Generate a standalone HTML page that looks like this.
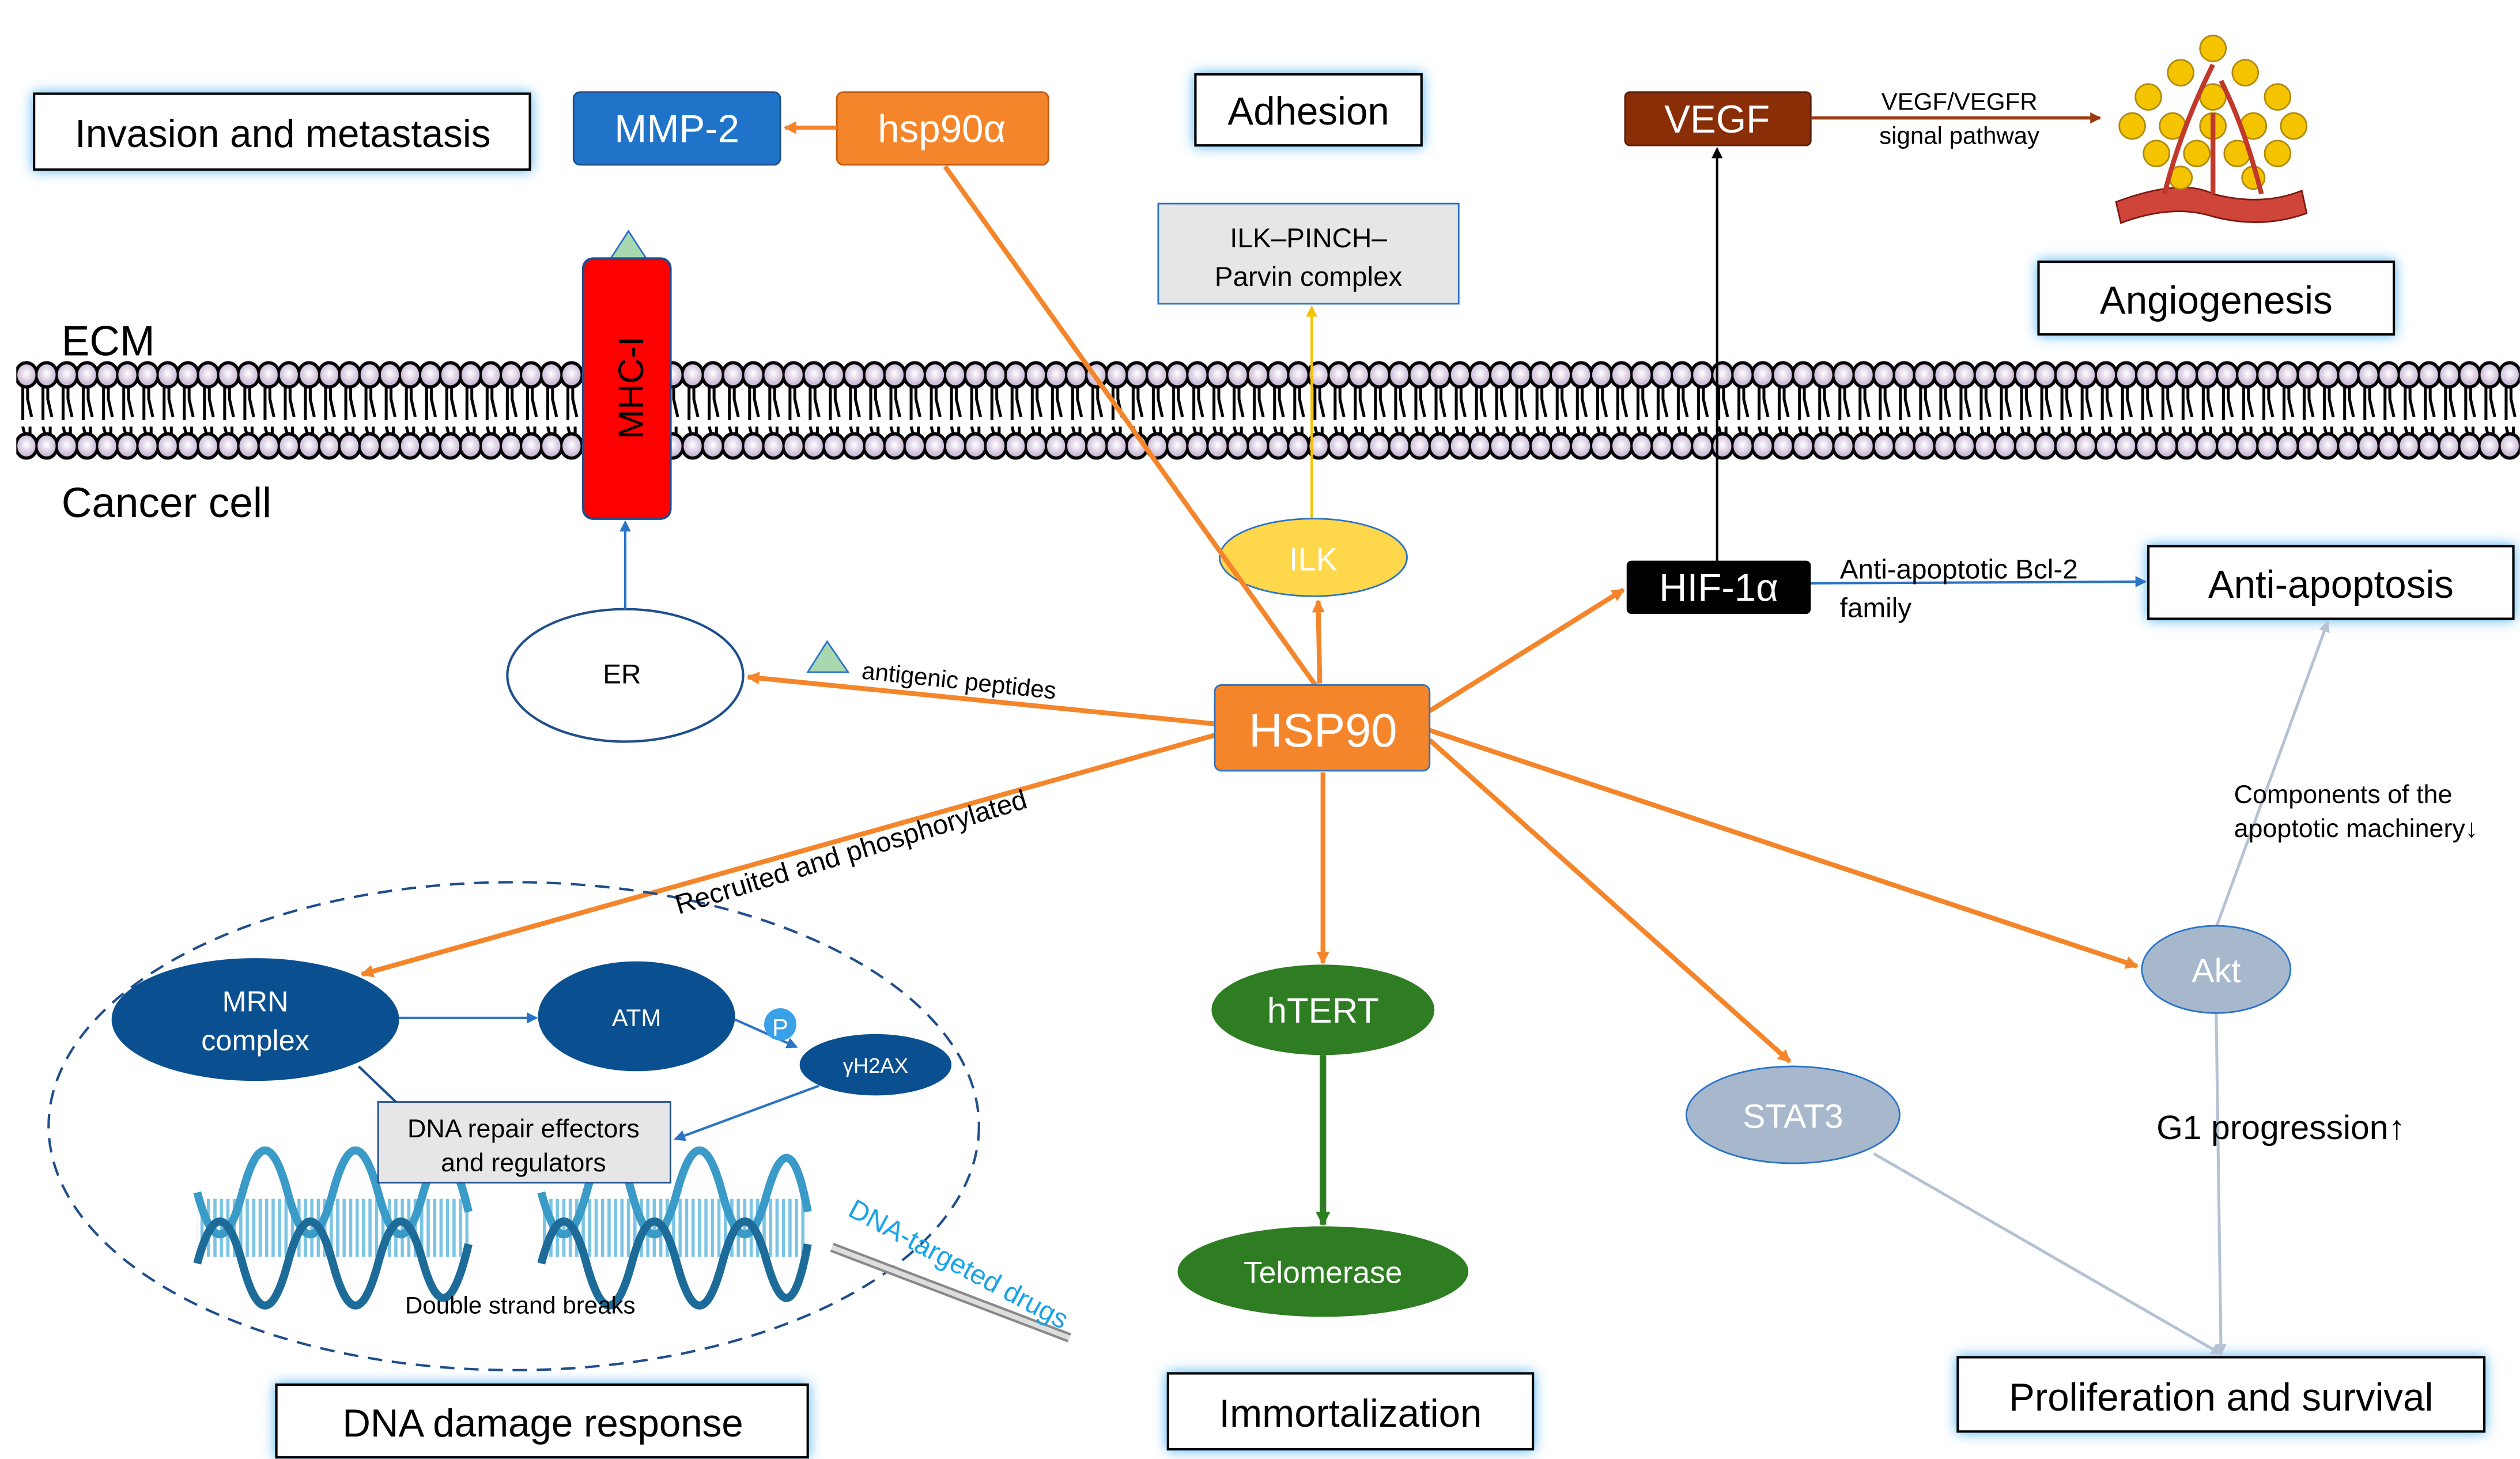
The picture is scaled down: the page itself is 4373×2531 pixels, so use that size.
<!DOCTYPE html>
<html><head><meta charset="utf-8"><style>
html,body{margin:0;padding:0;background:#fff}
svg{display:block}
text{font-family:"Liberation Sans",Arial,sans-serif}
</style></head><body>
<svg width="4373" height="2531" viewBox="0 0 1560 903" xmlns="http://www.w3.org/2000/svg">
<defs>
<radialGradient id="hg" cx="50%" cy="45%" r="60%"><stop offset="0" stop-color="#fff"/><stop offset="1" stop-color="#b8a0c8"/></radialGradient>
<pattern id="mem" x="10" y="220" width="12.5" height="70" patternUnits="userSpaceOnUse">
<path d="M4 19 V40 M7 19 L7 27 L9.5 38 M4 44 L6 52 L6 60 M8.5 44 V60" stroke="#000" stroke-width="1.8" fill="none"/>
<ellipse cx="6.25" cy="12" rx="6.6" ry="7.5" fill="url(#hg)" stroke="#000" stroke-width="2"/>
<ellipse cx="6.25" cy="56" rx="6.6" ry="7.5" fill="url(#hg)" stroke="#000" stroke-width="2"/>
</pattern>
<pattern id="rung" x="0" y="0" width="4" height="10" patternUnits="userSpaceOnUse"><rect width="2" height="10" fill="#7cc4e4"/></pattern>
<filter id="glow" x="-20%" y="-40%" width="140%" height="180%"><feGaussianBlur in="SourceAlpha" stdDeviation="4" result="b"/><feFlood flood-color="#4fb3f0"/><feComposite in2="b" operator="in"/><feMerge><feMergeNode/><feMergeNode in="SourceGraphic"/></feMerge></filter>
<marker id="ao" markerWidth="8" markerHeight="8" refX="7" refY="4" orient="auto" markerUnits="userSpaceOnUse"><path d="M0 0 L8 4 L0 8z" fill="#f5852a"/></marker>
<marker id="ab" markerWidth="7" markerHeight="7" refX="6" refY="3.5" orient="auto" markerUnits="userSpaceOnUse"><path d="M0 0 L7 3.5 L0 7z" fill="#2a73c7"/></marker>
<marker id="ak" markerWidth="7" markerHeight="7" refX="6" refY="3.5" orient="auto" markerUnits="userSpaceOnUse"><path d="M0 0 L7 3.5 L0 7z" fill="#000"/></marker>
<marker id="ay" markerWidth="7" markerHeight="7" refX="6" refY="3.5" orient="auto" markerUnits="userSpaceOnUse"><path d="M0 0 L7 3.5 L0 7z" fill="#f5c400"/></marker>
<marker id="ag" markerWidth="7" markerHeight="7" refX="6" refY="3.5" orient="auto" markerUnits="userSpaceOnUse"><path d="M0 0 L7 3.5 L0 7z" fill="#b4c2d4"/></marker>
<marker id="agr" markerWidth="9" markerHeight="9" refX="8" refY="4.5" orient="auto" markerUnits="userSpaceOnUse"><path d="M0 0 L9 4.5 L0 9z" fill="#2e7d22"/></marker>
<marker id="abr" markerWidth="7" markerHeight="7" refX="6" refY="3.5" orient="auto" markerUnits="userSpaceOnUse"><path d="M0 0 L7 3.5 L0 7z" fill="#9b3b10"/></marker>
</defs>
<rect width="1560" height="903" fill="#fff"/>
<!-- membrane -->
<rect x="10" y="220" width="1550" height="70" fill="url(#mem)"/>
<text x="38" y="220" font-size="26">ECM</text>
<text x="38" y="320" font-size="26">Cancer cell</text>
<!-- MHC-I -->
<polygon points="389,143 378,160 400,160" fill="#a8d8b0" stroke="#2a73c7" stroke-width="1"/>
<rect x="361" y="160" width="54" height="161" rx="6" fill="#f00" stroke="#1f4e8c" stroke-width="1.5"/>
<text transform="translate(398,240) rotate(-90)" text-anchor="middle" font-size="22">MHC-I</text>
<!-- label boxes -->
<g filter="url(#glow)" fill="#fff" stroke="#000" stroke-width="1.5">
<rect x="21" y="58" width="307" height="47"/>
<rect x="740" y="46" width="140" height="44"/>
<rect x="1262" y="162" width="220" height="45"/>
<rect x="1330" y="338" width="226" height="45"/>
<rect x="171" y="857" width="329" height="45"/>
<rect x="723" y="850" width="226" height="47"/>
<rect x="1212" y="840" width="326" height="46"/>
</g>
<g font-size="24" text-anchor="middle">
<text x="175" y="91">Invasion and metastasis</text>
<text x="810" y="77">Adhesion</text>
<text x="1372" y="194">Angiogenesis</text>
<text x="1443" y="370">Anti-apoptosis</text>
<text x="336" y="889">DNA damage response</text>
<text x="836" y="883">Immortalization</text>
<text x="1375" y="873">Proliferation and survival</text>
</g>
<!-- top boxes -->
<rect x="355" y="57" width="128" height="45" rx="4" fill="#1f74c9" stroke="#1f4e8c"/>
<text x="419" y="88" font-size="24" fill="#fff" text-anchor="middle">MMP-2</text>
<rect x="518" y="57" width="131" height="45" rx="4" fill="#f5852a" stroke="#c45a10"/>
<text x="583" y="88" font-size="24" fill="#fff" text-anchor="middle">hsp90α</text>
<line x1="518" y1="79" x2="486" y2="79" stroke="#f5852a" stroke-width="2.5" marker-end="url(#ao)"/>
<rect x="717" y="126" width="186" height="62" fill="#e6e6e6" stroke="#2a73c7"/>
<text x="810" y="153" font-size="17" text-anchor="middle">ILK–PINCH–</text>
<text x="810" y="177" font-size="17" text-anchor="middle">Parvin complex</text>
<rect x="1006" y="57" width="115" height="33" rx="3" fill="#8a2e08" stroke="#5a1c04"/>
<text x="1063" y="82" font-size="24" fill="#fff" text-anchor="middle">VEGF</text>
<line x1="1121" y1="73" x2="1300" y2="73" stroke="#9b3b10" stroke-width="2" marker-end="url(#abr)"/>
<text x="1213" y="68" font-size="15" text-anchor="middle">VEGF/VEGFR</text>
<text x="1213" y="89" font-size="15" text-anchor="middle">signal pathway</text>
<!-- tumor -->
<path d="M1310 125 Q1350 110 1370 120 Q1400 128 1425 118 L1428 132 Q1400 142 1370 134 Q1345 126 1313 138z" fill="#d0453a" stroke="#7a1a12"/>
<g stroke="#b08a10" stroke-width="1">
<circle cx="1370" cy="30" r="8" fill="#f5c400"/><circle cx="1350" cy="45" r="8" fill="#f5c400"/><circle cx="1390" cy="45" r="8" fill="#f5c400"/>
<circle cx="1330" cy="60" r="8" fill="#f5c400"/><circle cx="1410" cy="60" r="8" fill="#f5c400"/><circle cx="1370" cy="60" r="8" fill="#f5c400"/>
<circle cx="1320" cy="78" r="8" fill="#f5c400"/><circle cx="1345" cy="78" r="8" fill="#f5c400"/><circle cx="1395" cy="78" r="8" fill="#f5c400"/><circle cx="1420" cy="78" r="8" fill="#f5c400"/>
<circle cx="1335" cy="95" r="8" fill="#f5c400"/><circle cx="1360" cy="95" r="8" fill="#f5c400"/><circle cx="1385" cy="95" r="8" fill="#f5c400"/><circle cx="1410" cy="95" r="8" fill="#f5c400"/>
<circle cx="1370" cy="78" r="8" fill="#f5c400"/><circle cx="1350" cy="110" r="7" fill="#f5c400"/><circle cx="1395" cy="110" r="7" fill="#f5c400"/>
</g>
<path d="M1340 120 Q1350 80 1370 40 M1400 120 Q1390 80 1375 50 M1370 120 L1370 70" stroke="#c0392b" stroke-width="3" fill="none"/>
<!-- HIF/VEGF -->
<line x1="1063" y1="347" x2="1063" y2="92" stroke="#000" stroke-width="1.5" marker-end="url(#ak)"/>
<rect x="1007" y="347" width="114" height="33" rx="3" fill="#000"/>
<text x="1064" y="372" font-size="24" fill="#fff" text-anchor="middle">HIF-1α</text>
<line x1="1121" y1="361" x2="1328" y2="360" stroke="#2a73c7" stroke-width="1.5" marker-end="url(#ab)"/>
<text x="1139" y="358" font-size="17">Anti-apoptotic Bcl-2</text>
<text x="1139" y="382" font-size="17">family</text>
<!-- ILK -->
<line x1="812" y1="322" x2="812" y2="190" stroke="#f5c400" stroke-width="1.5" marker-end="url(#ay)"/>
<ellipse cx="813" cy="345" rx="58" ry="24" fill="#ffd74a" stroke="#2a73c7"/>
<text x="813" y="353" font-size="20" fill="#fff" text-anchor="middle">ILK</text>
<!-- orange arrows from HSP90 -->
<g stroke="#f5852a" stroke-width="3" fill="none">
<line x1="815" y1="425" x2="585" y2="103"/>
<line x1="817" y1="423" x2="816" y2="372" marker-end="url(#ao)"/>
<line x1="752" y1="448" x2="463" y2="419" marker-end="url(#ao)"/>
<line x1="885" y1="440" x2="1005" y2="365" marker-end="url(#ao)"/>
<line x1="752" y1="455" x2="224" y2="603" marker-end="url(#ao)"/>
<line x1="819" y1="478" x2="819" y2="596" marker-end="url(#ao)"/>
<line x1="885" y1="458" x2="1108" y2="657" marker-end="url(#ao)"/>
<line x1="885" y1="452" x2="1323" y2="598" marker-end="url(#ao)"/>
</g>
<rect x="752" y="424" width="133" height="53" rx="4" fill="#f5852a" stroke="#2a73c7"/>
<text x="819" y="462" font-size="29" fill="#fff" text-anchor="middle">HSP90</text>
<!-- ER -->
<ellipse cx="387" cy="418" rx="73" ry="41" fill="#fff" stroke="#1f4e8c" stroke-width="1.5"/>
<text x="385" y="423" font-size="17" text-anchor="middle">ER</text>
<line x1="387" y1="377" x2="387" y2="323" stroke="#2a73c7" stroke-width="1.5" marker-end="url(#ab)"/>
<polygon points="512,397 500,416 525,416" fill="#a8d8b0" stroke="#2a73c7"/>
<text x="533" y="420" font-size="15" transform="rotate(6 533 420)">antigenic peptides</text>
<!-- DNA region -->
<ellipse cx="318" cy="697" rx="288" ry="151" fill="none" stroke="#1f4e8c" stroke-width="1.5" stroke-dasharray="9,6"/>
<text x="420" y="566" font-size="17" transform="rotate(-17 420 566)">Recruited and phosphorylated</text>
<ellipse cx="158" cy="631" rx="89" ry="38" fill="#0a5090"/>
<text x="158" y="626" font-size="18" fill="#fff" text-anchor="middle">MRN</text>
<text x="158" y="650" font-size="18" fill="#fff" text-anchor="middle">complex</text>
<line x1="247" y1="630" x2="332" y2="630" stroke="#2a73c7" stroke-width="1.5" marker-end="url(#ab)"/>
<ellipse cx="394" cy="629" rx="61" ry="34" fill="#0a5090"/>
<text x="394" y="635" font-size="15" fill="#fff" text-anchor="middle">ATM</text>
<line x1="455" y1="631" x2="493" y2="648" stroke="#2a73c7" stroke-width="1.5" marker-end="url(#ab)"/>
<circle cx="483" cy="634" r="10" fill="#3aa0e8"/>
<text x="483" y="641" font-size="15" fill="#fff" text-anchor="middle">P</text>
<ellipse cx="542" cy="659" rx="47" ry="19" fill="#0a5090"/>
<text x="542" y="664" font-size="13" fill="#fff" text-anchor="middle">γH2AX</text>
<line x1="507" y1="672" x2="418" y2="705" stroke="#2a73c7" stroke-width="1.5" marker-end="url(#ab)"/>
<line x1="222" y1="660" x2="245" y2="682" stroke="#1f4e8c" stroke-width="1.5"/>
<rect x="122" y="742" width="168" height="36" fill="url(#rung)"/>
<rect x="335" y="742" width="165" height="36" fill="url(#rung)"/>
<g stroke="#3a9ac8" stroke-width="5" fill="none">
<path d="M122 738 Q136 790 150 738 Q164 686 178 738 Q192 790 206 738 Q220 686 234 738 Q248 790 262 738 Q276 690 290 750"/>
<path d="M122 782 Q136 730 150 782 Q164 834 178 782 Q192 730 206 782 Q220 834 234 782 Q248 730 262 782 Q276 830 290 770" stroke="#1d6b98"/>
<path d="M335 738 Q349 790 363 738 Q377 686 391 738 Q405 790 419 738 Q433 686 447 738 Q461 790 475 738 Q489 690 500 750"/>
<path d="M335 782 Q349 730 363 782 Q377 834 391 782 Q405 730 419 782 Q433 834 447 782 Q461 730 475 782 Q489 830 500 770" stroke="#1d6b98"/>
</g>
<rect x="234" y="682" width="181" height="50" fill="#e6e6e6" stroke="#1f4e8c"/>
<text x="324" y="704" font-size="16" text-anchor="middle">DNA repair effectors</text>
<text x="324" y="725" font-size="16" text-anchor="middle">and regulators</text>
<text x="322" y="813" font-size="15" text-anchor="middle">Double strand breaks</text>
<line x1="515" y1="772" x2="662" y2="828" stroke="#888" stroke-width="6"/>
<line x1="515" y1="772" x2="662" y2="828" stroke="#ddd" stroke-width="3"/>
<text x="524" y="752" font-size="17" fill="#1aa3e8" transform="rotate(28 524 752)">DNA-targeted drugs</text>
<!-- hTERT -->
<ellipse cx="819" cy="625" rx="69" ry="28" fill="#2e7d22"/>
<text x="819" y="633" font-size="22" fill="#fff" text-anchor="middle">hTERT</text>
<line x1="819" y1="653" x2="819" y2="758" stroke="#2e7d22" stroke-width="4" marker-end="url(#agr)"/>
<ellipse cx="819" cy="787" rx="90" ry="28" fill="#2e7d22"/>
<text x="819" y="794" font-size="19" fill="#fff" text-anchor="middle">Telomerase</text>
<!-- STAT3/Akt -->
<line x1="1160" y1="714" x2="1375" y2="838" stroke="#b4c2d4" stroke-width="1.8" marker-end="url(#ag)"/>
<line x1="1372" y1="627" x2="1375" y2="838" stroke="#b4c2d4" stroke-width="1.8" marker-end="url(#ag)"/>
<line x1="1372" y1="574" x2="1441" y2="385" stroke="#b4c2d4" stroke-width="1.8" marker-end="url(#ag)"/>
<ellipse cx="1110" cy="690" rx="66" ry="30" fill="#a8b8cc" stroke="#2a73c7"/>
<text x="1110" y="698" font-size="21" fill="#fff" text-anchor="middle">STAT3</text>
<ellipse cx="1372" cy="600" rx="46" ry="27" fill="#a8b8cc" stroke="#2a73c7"/>
<text x="1372" y="608" font-size="21" fill="#fff" text-anchor="middle">Akt</text>
<text x="1383" y="497" font-size="16">Components of the</text>
<text x="1383" y="518" font-size="16">apoptotic machinery↓</text>
<text x="1335" y="705" font-size="21">G1 progression↑</text>
</svg>
</body></html>
